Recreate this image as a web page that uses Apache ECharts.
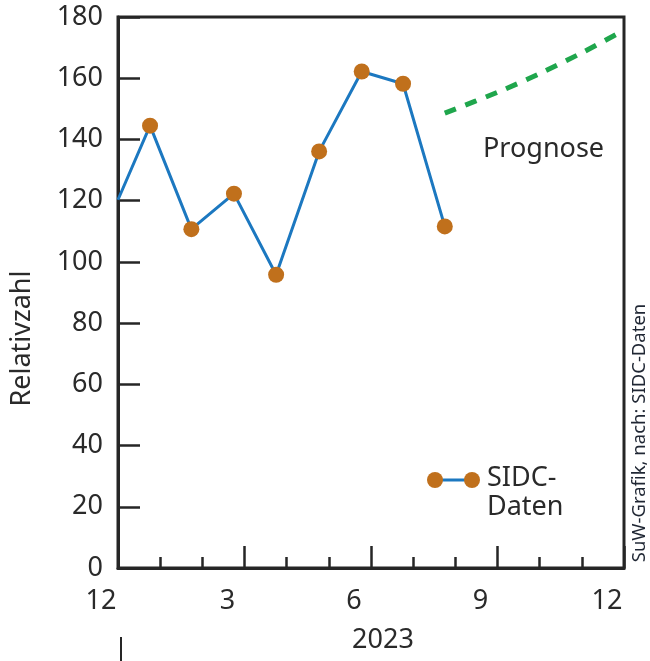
<!DOCTYPE html>
<html>
<head>
<meta charset="utf-8">
<script src="https://cdn.jsdelivr.net/npm/echarts@6/dist/echarts.min.js"></script>
<style>
html,body{margin:0;padding:0;background:#fff;}
#c{width:650px;height:661px;}
</style>
</head>
<body>
<div id="c"></div>
<script>
// Months counted from December 2022 (0) to December 2023 (12)
const sidcMonths = [0, 0.76, 1.74, 2.75, 3.75, 4.77, 5.78, 6.76, 7.75];
const sidcValues = [120.3, 144.5, 110.7, 122.3, 95.8, 136.1, 162.2, 158.2, 111.6];
const prognoseMonths = [7.75, 9, 10, 11, 12];
const prognoseValues = [148.6, 155.4, 161.5, 168.3, 175.7];
const xTickLabels = {0: '12', 3: '3', 6: '6', 9: '9', 12: '12'};
const yearLabel = '2023';
const yLabel = 'Relativzahl';
const sourceText = 'SuW-Grafik, nach: SIDC-Daten';
const prognoseText = 'Prognose';
const legendText = 'SIDC-\nDaten';

const FONT = 'Noto Sans';
const TXT = '#2a2a2a';
const AX = '#262626';
const BLUE = '#1c78c0';
const ORANGE = '#c0701c';
const GREEN = '#1fa64c';

const chart = echarts.init(document.getElementById('c'), null, {renderer: 'canvas'});

const sidcData = sidcMonths.map((m, i) => i === 0
  ? {value: [m, sidcValues[i]], symbol: 'none'}
  : [m, sidcValues[i]]);
const progData = prognoseMonths.map((m, i) => [m, prognoseValues[i]]);

chart.setOption({
  animation: false,
  backgroundColor: '#fff',
  textStyle: {fontFamily: FONT},
  grid: {left: 118, right: 26, top: 17, bottom: 93, show: true, borderColor: AX, borderWidth: 3, backgroundColor: 'transparent'},
  xAxis: {
    type: 'value', min: 0, max: 12, interval: 3,
    name: yearLabel, nameLocation: 'middle', nameGap: 59,
    nameTextStyle: {fontSize: 27, color: TXT, fontFamily: FONT, padding: [0, 0, 0, 24]},
    axisLine: {show: true, lineStyle: {color: AX, width: 3}},
    axisTick: {show: true, inside: true, length: 22, lineStyle: {color: AX, width: 2.5}},
    minorTick: {show: true, splitNumber: 3, length: 11, lineStyle: {color: AX, width: 2.5}},
    splitLine: {show: false}, minorSplitLine: {show: false},
    axisLabel: {
      margin: 20, fontSize: 27, color: TXT, fontFamily: FONT,
      formatter: v => '{t|' + (xTickLabels[v] || '') + '}',
      rich: {t: {fontSize: 27, color: TXT, fontFamily: FONT, padding: [0, 34, 0, 0]}}
    }
  },
  yAxis: {
    type: 'value', min: 0, max: 180, interval: 20,
    name: yLabel, nameLocation: 'middle', nameGap: 82, nameRotate: 90,
    nameTextStyle: {fontSize: 27, color: TXT, fontFamily: FONT, padding: [0, 92, 0, 0]},
    axisLine: {show: true, lineStyle: {color: AX, width: 3}},
    axisTick: {show: true, inside: true, length: 22, lineStyle: {color: AX, width: 2.5}},
    splitLine: {show: false},
    axisLabel: {margin: 15, fontSize: 27, color: TXT, fontFamily: FONT}
  },
  series: [
    {
      name: 'SIDC-Daten', type: 'line', data: sidcData,
      symbol: 'circle', symbolSize: 16,
      lineStyle: {color: BLUE, width: 3},
      itemStyle: {color: ORANGE},
      z: 3
    },
    {
      name: 'Prognose', type: 'line', data: progData,
      smooth: 0.3, symbol: 'none',
      lineStyle: {color: GREEN, width: 5, type: [12, 10]},
      z: 2
    }
  ],
  graphic: [
    {type: 'text', left: 483, top: 136, style: {text: prognoseText, fontSize: 27, fill: TXT, fontFamily: FONT}},
    {type: 'line', shape: {x1: 435, y1: 480, x2: 472, y2: 480}, style: {stroke: BLUE, lineWidth: 3}},
    {type: 'circle', shape: {cx: 435, cy: 480, r: 8}, style: {fill: ORANGE}},
    {type: 'circle', shape: {cx: 472, cy: 480, r: 8}, style: {fill: ORANGE}},
    {type: 'text', left: 487, top: 464, style: {text: legendText, fontSize: 27, lineHeight: 29, fill: TXT, fontFamily: FONT}},
    {type: 'text', x: 640, y: 433, rotation: Math.PI / 2,
      style: {text: sourceText, fontSize: 18.5, fill: '#1f2633', fontFamily: FONT, align: 'center', verticalAlign: 'middle'}},
    {type: 'line', shape: {x1: 121, y1: 637, x2: 121, y2: 661}, style: {stroke: AX, lineWidth: 2}}
  ]
});
</script>
</body>
</html>
